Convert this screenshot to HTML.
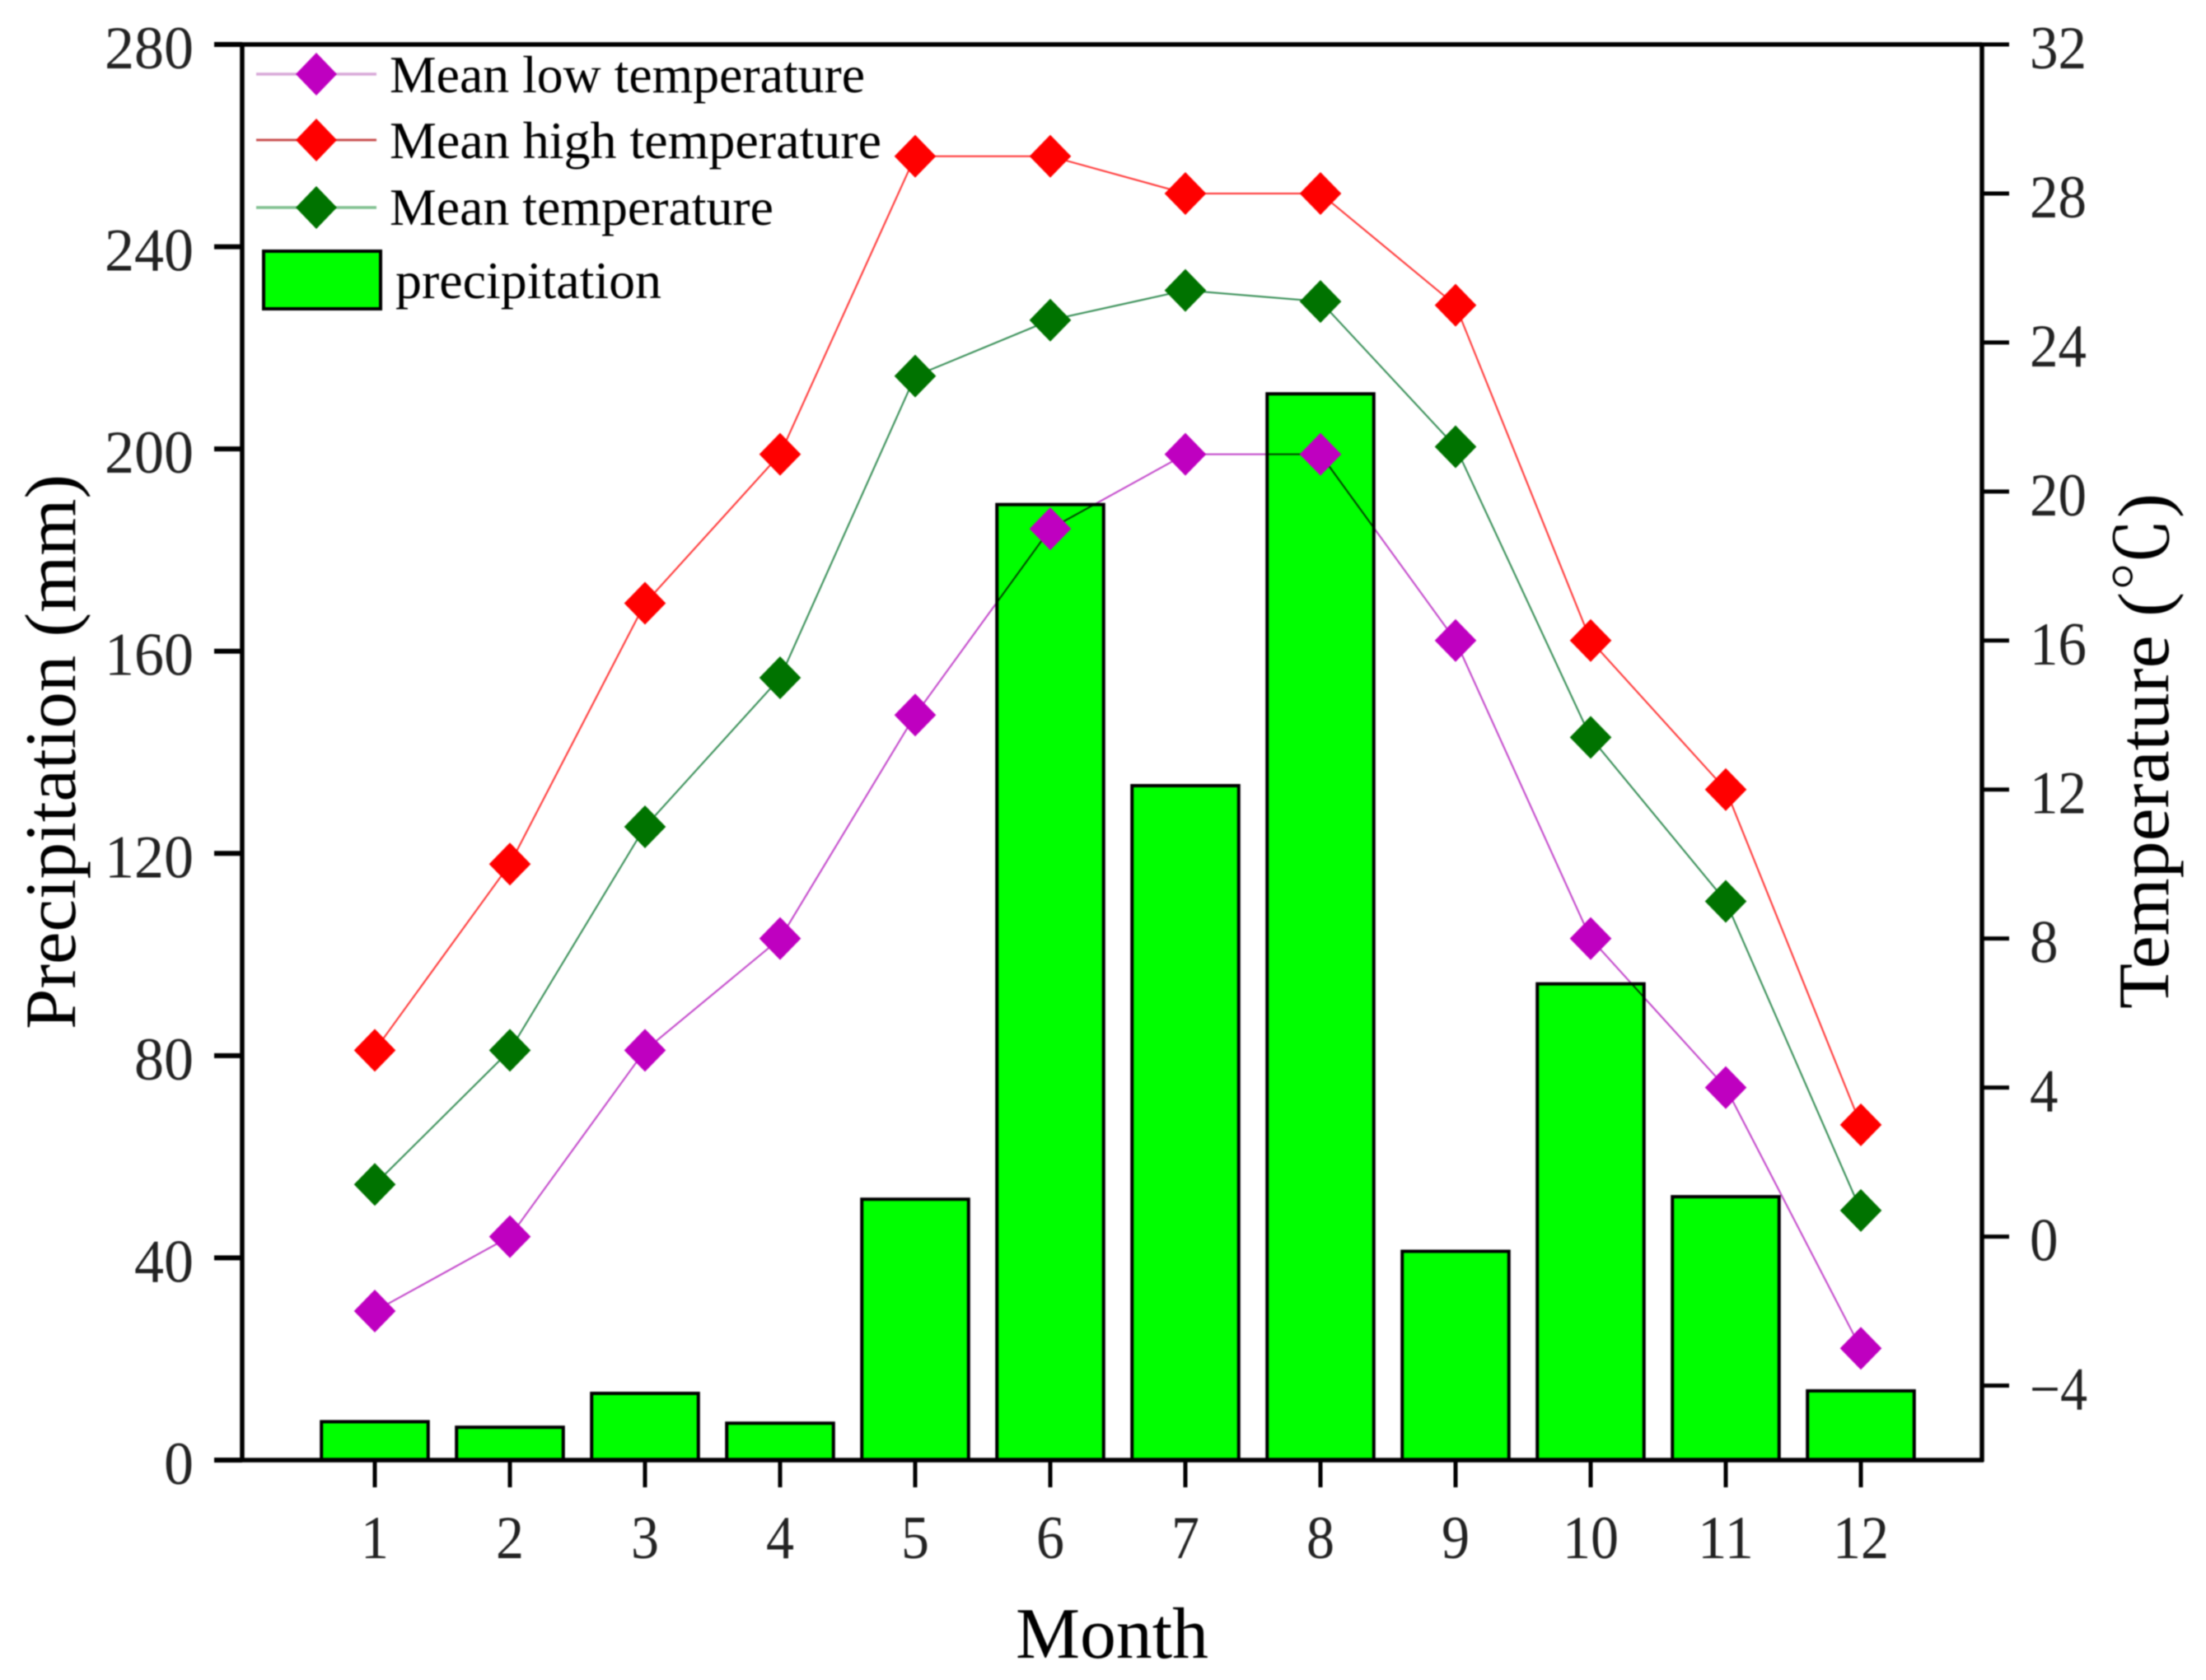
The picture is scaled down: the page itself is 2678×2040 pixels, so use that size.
<!DOCTYPE html>
<html lang="en">
<head>
<meta charset="utf-8">
<title>Monthly precipitation and temperature</title>
<style>
  html, body { margin: 0; padding: 0; background: #fff; }
  svg { display: block; filter: blur(0.7px); }
  text { font-family: "Liberation Serif", "Noto Serif CJK SC", serif; fill: #000; }
  #axes text { fill: #222; }
  .series-line { mix-blend-mode: multiply; }
</style>
</head>
<body>
<svg id="chart" xmlns="http://www.w3.org/2000/svg" width="2678" height="2040" viewBox="0 0 2678 2040">
  <rect x="0" y="0" width="2678" height="2040" fill="#fff"/>
  <g id="bars"></g>
  <g id="lines"></g>
  <g id="axes"></g>
  <g id="legend">
    <g>
      <line x1="311" y1="90" x2="457" y2="90" stroke="#d8a8d8" stroke-width="3.5"/>
      <polygon points="384,64 409,90 384,116 359,90" fill="#bf00c0"/>
      <text x="473" y="112" font-size="64" textLength="577" lengthAdjust="spacingAndGlyphs">Mean low temperature</text>
    </g>
    <g>
      <line x1="311" y1="170" x2="457" y2="170" stroke="#c85050" stroke-width="3"/>
      <polygon points="384,144 409,170 384,196 359,170" fill="#ff0000"/>
      <text x="473" y="192" font-size="64" textLength="597" lengthAdjust="spacingAndGlyphs">Mean high temperature</text>
    </g>
    <g>
      <line x1="311" y1="252" x2="457" y2="252" stroke="#80c090" stroke-width="3.5"/>
      <polygon points="384,226 409,252 384,278 359,252" fill="#007300"/>
      <text x="473" y="273" font-size="64" textLength="466" lengthAdjust="spacingAndGlyphs">Mean temperature</text>
    </g>
    <g>
      <rect x="320" y="305" width="142" height="70" fill="#00ff00" stroke="#000" stroke-width="4"/>
      <text x="480" y="362" font-size="64" textLength="323" lengthAdjust="spacingAndGlyphs">precipitation</text>
    </g>
  </g>
  <text x="1233" y="2013" font-size="88" textLength="234" lengthAdjust="spacingAndGlyphs">Month</text>
  <text transform="translate(91 1250) rotate(-90)" font-size="88" textLength="674" lengthAdjust="spacingAndGlyphs">Precipitation (mm)</text>
  <text transform="translate(2632 1225) rotate(-90)" font-size="88" textLength="626" lengthAdjust="spacingAndGlyphs">Temperature (℃)</text>
</svg>
<script>
const months = ["1", "2", "3", "4", "5", "6", "7", "8", "9", "10", "11", "12"];
const precipitation = [7.6, 6.5, 13.2, 7.3, 51.6, 189, 133.4, 210.9, 41.3, 94.2, 52.1, 13.7];
const meanLow = [-2, 0, 5, 8, 14, 19, 21, 21, 16, 8, 4, -3];
const meanHigh = [5, 10, 17, 21, 29, 29, 28, 28, 25, 16, 12, 3];
const meanTemp = [1.4, 5, 11, 15, 23.1, 24.6, 25.4, 25.1, 21.2, 13.4, 9, 0.7];
const leftTicks = [0, 40, 80, 120, 160, 200, 240, 280];
const rightTicks = [-4, 0, 4, 8, 12, 16, 20, 24, 28, 32];

const NS = "http://www.w3.org/2000/svg";
const plot = { left: 294, right: 2406, top: 54, bottom: 1773 };
const leftDomain = [0, 280];
const rightDomain = [-6, 32];
const firstMonthX = 455;
const monthStep = 164;

function xPos(i) { return firstMonthX + i * monthStep; }
function yLeft(v) { return plot.bottom - (v - leftDomain[0]) / (leftDomain[1] - leftDomain[0]) * (plot.bottom - plot.top); }
function yRight(v) { return plot.bottom - (v - rightDomain[0]) / (rightDomain[1] - rightDomain[0]) * (plot.bottom - plot.top); }
function make(tag, attrs, parent) {
  const el = document.createElementNS(NS, tag);
  Object.keys(attrs).forEach(function (k) { el.setAttribute(k, attrs[k]); });
  parent.appendChild(el);
  return el;
}

const barsGroup = document.getElementById("bars");
const linesGroup = document.getElementById("lines");
const axesGroup = document.getElementById("axes");

const barWidth = monthStep * 0.79;
precipitation.forEach(function (v, i) {
  const top = yLeft(v);
  const bar = make("rect", { x: xPos(i) - barWidth / 2, y: top, width: barWidth, height: plot.bottom - top, fill: "#00ff00", stroke: "#000", "stroke-width": 4 }, barsGroup);
  
  
});

function drawSeries(values, lineColor, markerColor, seriesName) {
  const pts = values.map(function (v, i) { return xPos(i) + "," + yRight(v); }).join(" ");
  const line = make("polyline", { points: pts, fill: "none", stroke: lineColor, "stroke-width": 2, "class": "series-line" }, linesGroup);
  
  
  line.setAttribute('aria-label', seriesName);
  values.forEach(function (v, i) {
    const cx = xPos(i), cy = yRight(v);
    const rx = 25.3, ry = 26;
    const p = make("polygon", { points: cx + "," + (cy - ry) + " " + (cx + rx) + "," + cy + " " + cx + "," + (cy + ry) + " " + (cx - rx) + "," + cy, fill: markerColor }, linesGroup);
    
    
  });
}
drawSeries(meanLow, "#c040c8", "#bf00c0", "Mean low temperature");
drawSeries(meanHigh, "#ff3030", "#ff0000", "Mean high temperature");
drawSeries(meanTemp, "#308a50", "#007300", "Mean temperature");

const frameLines = [
  [plot.left, plot.top, plot.left, plot.bottom + 2, "left"],
  [plot.right, plot.top, plot.right, plot.bottom + 2, "right"],
  [plot.left, plot.top, plot.right, plot.top, "top"],
  [plot.left, plot.bottom, plot.right + 2, plot.bottom, "bottom"]
];
frameLines.forEach(function (f) {
  const l = make("line", { x1: f[0], y1: f[1], x2: f[2], y2: f[3], stroke: "#000", "stroke-width": 5.5 }, axesGroup);
  
  
});

months.forEach(function (m, i) {
  const x = xPos(i);
  const t = make("line", { x1: x, y1: plot.bottom, x2: x, y2: 1806, stroke: "#000", "stroke-width": 5 }, axesGroup);
  
  
  const label = make("text", { x: x, y: 1892, "font-size": 74, "text-anchor": "middle", textLength: m.length * 34, lengthAdjust: "spacingAndGlyphs" }, axesGroup);
  label.textContent = m;
  
  
});

leftTicks.forEach(function (v) {
  const y = yLeft(v);
  const t = make("line", { x1: 260, y1: y, x2: plot.left, y2: y, stroke: "#000", "stroke-width": 6 }, axesGroup);
  
  
  const s = String(v);
  const label = make("text", { x: 235, y: y + 29, "font-size": 74, "text-anchor": "end", textLength: s.length * 36, lengthAdjust: "spacingAndGlyphs" }, axesGroup);
  label.textContent = s;
  
  
});

rightTicks.forEach(function (v) {
  const y = yRight(v);
  const t = make("line", { x1: plot.right, y1: y, x2: 2439, y2: y, stroke: "#000", "stroke-width": 5 }, axesGroup);
  
  
  const s = v < 0 ? "\u2212" + Math.abs(v) : String(v);
  const len = v < 0 ? 70 : s.length * 34.5;
  const label = make("text", { x: 2464, y: y + 29, "font-size": 74, textLength: len, lengthAdjust: "spacingAndGlyphs" }, axesGroup);
  label.textContent = s;
  
  
});
</script>
</body>
</html>
